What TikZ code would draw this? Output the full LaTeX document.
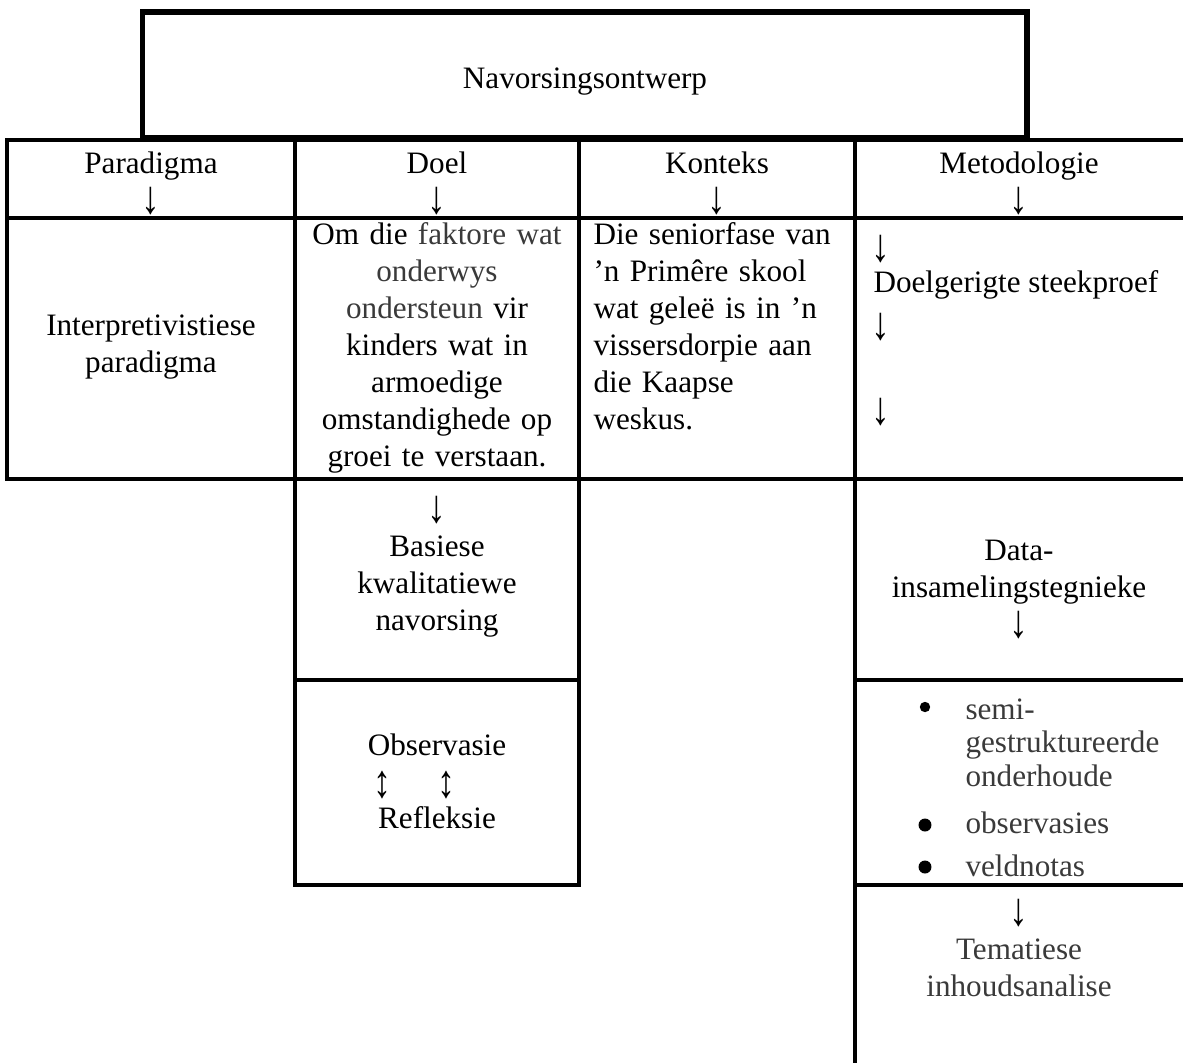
\documentclass[tikz,border=0pt]{standalone}
\usepackage{graphicx}
\usepackage{fontspec}
\setmainfont{Liberation Serif}
\definecolor{txtgray}{HTML}{3A3A3A}
\newcommand\dnarr{\raisebox{-1.3pt}[\height][0pt]{\scalebox{1.2}[1.5]{↓}}}
\newcommand\udarr{\raisebox{-0.6pt}{\scalebox{1.15}[1.5]{↕}}}
\begin{document}
\begin{tikzpicture}[x=0.385pt,y=-0.385pt,
  grid/.style={line width=1.65pt,line cap=rect},
  topbox/.style={line width=1.95pt},
  every node/.style={font=\fontsize{12}{14.25}\selectfont,inner sep=0pt},
  lbl/.style={anchor=base,align=center},
  lblw/.style={anchor=base west,align=left},
  bul/.style={circle,fill=black,inner sep=0pt}
]
\useasboundingbox (0,0) rectangle (1183,1062);
% top box
\draw[topbox] (142.5,12) rectangle (1027,137.5);
% table grid
\draw[grid] (1183,140) -- (7,140) -- (7,479) -- (1183,479);
\draw[grid] (7,218) -- (1183,218);
\draw[grid] (295,140) -- (295,885) -- (579,885) -- (579,140);
\draw[grid] (295,680) -- (579,680);
\draw[grid] (855,140) -- (855,1062);
\draw[grid] (855,680) -- (1183,680);
\draw[grid] (855,885) -- (1183,885);
% title
\node[lbl] (title) at (585,88) {Navorsingsontwerp};
% headers
\node[lbl,text width=100pt] (hpar) at (151,173) {Paradigma\\\dnarr};
\node[lbl,text width=100pt] (hdoel) at (437,173) {Doel\\\dnarr};
\node[lbl,text width=100pt] (hkon) at (717,173) {Konteks\\\dnarr};
\node[lbl,text width=100pt] (hmet) at (1019,173) {Metodologie\\\dnarr};
% row 2
\node[lbl,text width=108pt] (interp) at (151,335) {Interpretivistiese\\paradigma};
\node[lbl,text width=108pt] (doelt) at (437,244) {Om die \textcolor{txtgray}{faktore wat}\\\textcolor{txtgray}{onderwys}\\\textcolor{txtgray}{ondersteun} vir\\kinders wat in\\armoedige\\omstandighede op\\groei te verstaan.};
\node[lblw,text width=100pt] (kont) at (593,244) {Die seniorfase van\\’n Primêre skool\\wat geleë is in ’n\\vissersdorpie aan\\die Kaapse\\weskus.};
\node[lblw] (ma1) at (871,258) {\dnarr};
\node[lblw] (mdoel) at (873,292) {Doelgerigte steekproef};
\node[lblw] (ma2) at (871,336) {\dnarr};
\node[lblw] (ma3) at (871,421) {\dnarr};
% Doel lower
\node[lbl,text width=108pt] (bas) at (437,519) {\dnarr\\Basiese\\kwalitatiewe\\navorsing};
\node[lbl] (obs) at (437,755) {Observasie};
\node[lbl] (ud1) at (382,796) {\udarr};
\node[lbl] (ud2) at (446,796) {\udarr};
\node[lbl] (refl) at (437,828) {Refleksie};
% Metodologie lower
\node[lbl,text width=120pt] (data) at (1019,560) {Data-\\insamelingstegnieke\\\dnarr};
\node[bul,minimum size=4pt] (b1) at (925,707) {};
\node[bul,minimum size=5pt] (b2) at (925,825) {};
\node[bul,minimum size=5pt] (b3) at (925,867) {};
\node[lblw,text width=80pt,font=\fontsize{12}{12.9}\selectfont,text=txtgray] (semi) at (965,719) {semi-\\gestruktureerde\\onderhoude};
\node[lblw,text=txtgray] (obsv) at (965,833) {observasies};
\node[lblw,text=txtgray] (veld) at (965,876) {veldnotas};
\node[lbl,text width=120pt] (tem) at (1019,922) {\dnarr\\\textcolor{txtgray}{Tematiese}\\\textcolor{txtgray}{inhoudsanalise}};
\end{tikzpicture}
\end{document}
